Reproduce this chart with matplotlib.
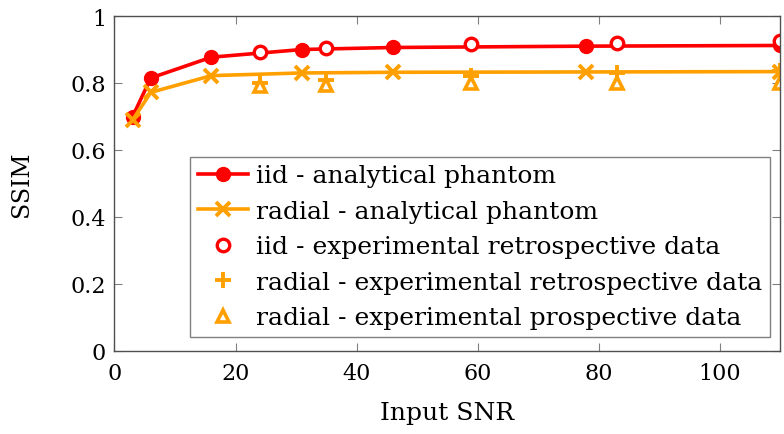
import matplotlib
matplotlib.use("Agg")
import matplotlib.pyplot as plt

# Data
snr_analytical = [3, 6, 16, 31, 46, 78, 110]
iid_analytical = [0.700, 0.815, 0.877, 0.900, 0.906, 0.910, 0.912]
radial_analytical = [0.690, 0.772, 0.822, 0.830, 0.832, 0.833, 0.834]

snr_experimental = [24, 35, 59, 83, 110]
iid_retro = [0.893, 0.905, 0.915, 0.920, 0.925]
radial_retro = [0.800, 0.810, 0.820, 0.830, 0.835]
radial_prosp = [0.790, 0.795, 0.800, 0.800, 0.800]

xticks = [0, 20, 40, 60, 80, 100]
yticks = [0, 0.2, 0.4, 0.6, 0.8, 1.0]
ytick_labels = ["0", "0.2", "0.4", "0.6", "0.8", "1"]

RED = "#ff0000"
ORANGE = "#ffa000"

plt.rcParams["font.family"] = ["DejaVu Serif"]

fig = plt.figure(figsize=(7.84, 4.35), dpi=100)
ax = fig.add_axes([114.5 / 784, 1 - 352 / 435, (780 - 114.5) / 784, (352 - 17) / 435])

ax.plot(snr_analytical, iid_analytical, color=RED, lw=2.6, marker="o", ms=10,
        label="iid - analytical phantom", zorder=3)
ax.plot(snr_analytical, radial_analytical, color=ORANGE, lw=2.6, marker="x", ms=10, mew=2.8,
        label="radial - analytical phantom", zorder=3)
ax.plot(snr_experimental, iid_retro, ls="none", marker="o", ms=9, mfc="white", mec=RED, mew=2.4,
        label="iid - experimental retrospective data", zorder=4)
ax.plot(snr_experimental, radial_retro, ls="none", marker="+", ms=12, mec=ORANGE, mew=2.8,
        label="radial - experimental retrospective data", zorder=4)
ax.plot(snr_experimental, radial_prosp, ls="none", marker="^", ms=9, mfc="white", mec=ORANGE, mew=2.6,
        label="radial - experimental prospective data", zorder=4)

ax.set_xlim(0, 110)
ax.set_ylim(0, 1)
ax.set_xticks(xticks)
ax.set_yticks(yticks)
ax.set_yticklabels(ytick_labels)
ax.tick_params(direction="in", length=6, width=0.8, color="#808080",
               top=True, right=True, labelsize=16)
ax.tick_params(axis="x", pad=8)
ax.tick_params(axis="y", pad=6)
for s in ax.spines.values():
    s.set_color("#505050")
    s.set_linewidth(1.0)
    s.set_zorder(5)

ax.set_xlabel("Input SNR", fontsize=18, va="center")
ax.set_ylabel("SSIM", fontsize=17, va="center")
ax.xaxis.set_label_coords(0.5, -0.185)
ax.yaxis.set_label_coords(-0.139, 0.5)

leg = ax.legend(loc="lower right", bbox_to_anchor=(0.985, 0.042), fontsize=18,
                frameon=True, fancybox=False, edgecolor="#808080", framealpha=1,
                handlelength=2.0, handletextpad=0.35, labelspacing=0.5,
                borderpad=0.3, borderaxespad=0)
leg.get_frame().set_linewidth(1.0)

fig.savefig("out.png", dpi=100)
